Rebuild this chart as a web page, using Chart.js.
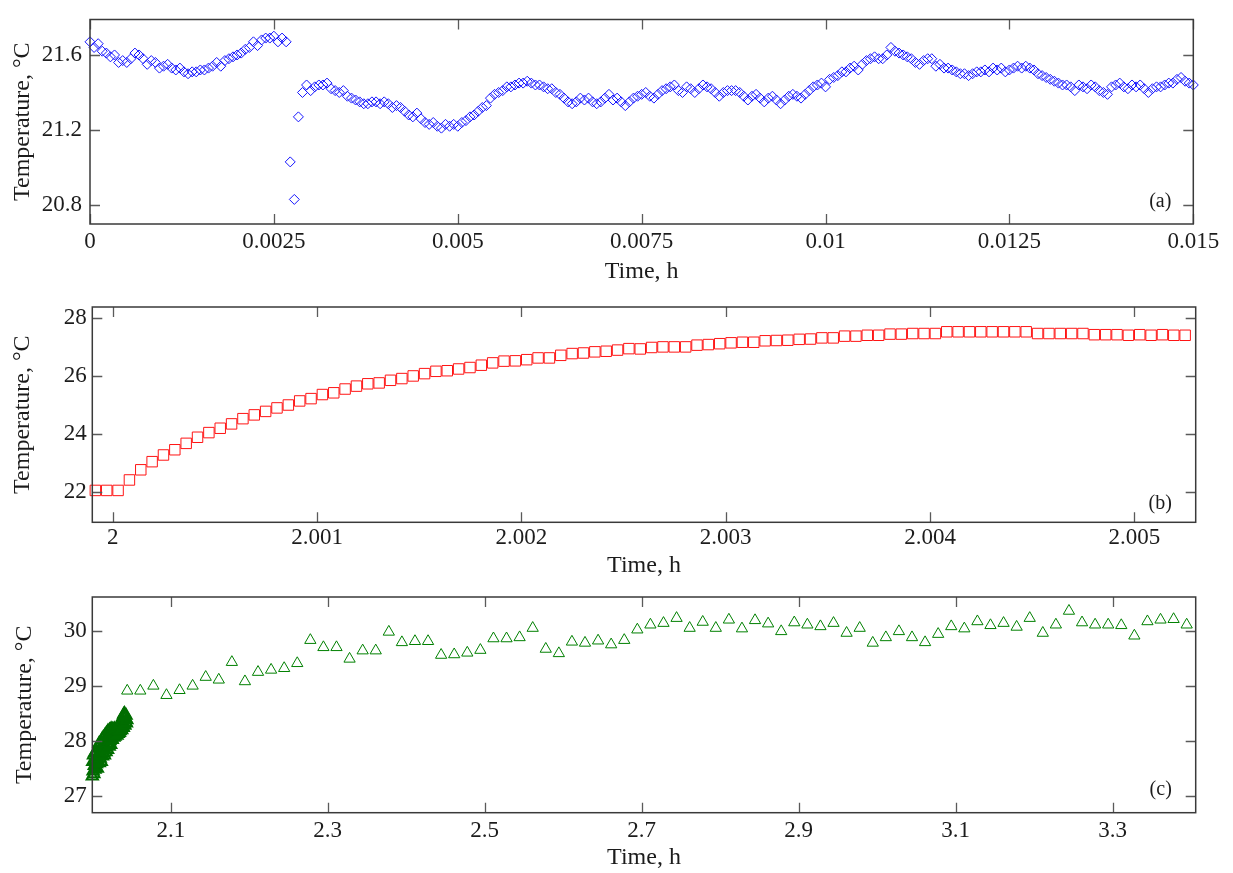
<!DOCTYPE html>
<html><head><meta charset="utf-8">
<script src="https://cdn.jsdelivr.net/npm/chart.js@4.4.1/dist/chart.umd.min.js"></script>
<style>
html,body{margin:0;padding:0;background:#fff;}
#wrap{position:relative;width:1233px;height:873px;overflow:hidden;background:#fff;}
.panel{position:absolute;left:0;width:1233px;}
canvas{display:block;}
</style></head><body>
<div id="wrap">
<div class="panel" style="top:0;height:290px"><canvas id="ca" width="1233" height="290"></canvas></div>
<div class="panel" style="top:290px;height:290px"><canvas id="cb" width="1233" height="290"></canvas></div>
<div class="panel" style="top:580px;height:293px"><canvas id="cc" width="1233" height="293"></canvas></div>
</div>
<script>
// ---------- Panel (a): sampled every 0.2 s, time in hours ----------
const startA = 0;
const stepA = 0.2 / 3600;
const tempA = [
 21.67,21.64,21.66,21.62,21.61,21.59,21.60,21.56,21.57,21.56,
 21.58,21.61,21.60,21.58,21.55,21.57,21.56,21.53,21.54,21.55,
 21.53,21.52,21.53,21.51,21.50,21.51,21.51,21.52,21.52,21.53,
 21.54,21.56,21.54,21.57,21.58,21.59,21.60,21.61,21.63,21.64,
 21.67,21.65,21.68,21.69,21.69,21.70,21.67,21.69,21.67,21.03,
 20.83,21.27,21.40,21.44,21.41,21.43,21.44,21.44,21.45,21.42,
 21.41,21.40,21.41,21.38,21.37,21.36,21.35,21.34,21.34,21.35,
 21.35,21.34,21.35,21.34,21.32,21.33,21.32,21.30,21.28,21.27,
 21.29,21.26,21.24,21.23,21.24,21.22,21.21,21.23,21.22,21.23,
 21.22,21.24,21.25,21.27,21.28,21.30,21.32,21.33,21.37,21.39,
 21.40,21.41,21.43,21.43,21.44,21.45,21.45,21.46,21.45,21.44,
 21.44,21.43,21.42,21.42,21.40,21.39,21.37,21.35,21.34,21.35,
 21.37,21.36,21.37,21.35,21.34,21.35,21.37,21.39,21.36,21.37,
 21.35,21.33,21.35,21.37,21.38,21.39,21.40,21.38,21.37,21.39,
 21.41,21.42,21.43,21.44,21.41,21.40,21.43,21.42,21.40,21.42,
 21.44,21.43,21.42,21.40,21.38,21.40,21.41,21.41,21.41,21.40,
 21.38,21.36,21.38,21.39,21.37,21.35,21.37,21.38,21.36,21.34,
 21.36,21.38,21.39,21.38,21.37,21.39,21.41,21.43,21.44,21.45,
 21.43,21.47,21.48,21.49,21.51,21.51,21.53,21.54,21.52,21.55,
 21.57,21.58,21.59,21.58,21.58,21.60,21.64,21.62,21.61,21.60,
 21.59,21.58,21.56,21.55,21.57,21.58,21.58,21.54,21.55,21.53,
 21.53,21.52,21.51,21.50,21.50,21.49,21.50,21.51,21.51,21.52,
 21.51,21.53,21.52,21.53,21.51,21.52,21.53,21.54,21.53,21.54,
 21.53,21.52,21.50,21.49,21.48,21.47,21.46,21.45,21.44,21.44,
 21.43,21.41,21.44,21.43,21.42,21.44,21.43,21.41,21.40,21.39,
 21.43,21.44,21.45,21.43,21.42,21.44,21.43,21.44,21.42,21.40,
 21.42,21.43,21.43,21.44,21.45,21.45,21.47,21.48,21.46,21.45,
 21.44
];
const xTicksA = [0, 0.0025, 0.005, 0.0075, 0.01, 0.0125, 0.015];
const xLabelsA = ["0", "0.0025", "0.005", "0.0075", "0.01", "0.0125", "0.015"];
const yTicksA = [20.8, 21.2, 21.6];
const yLabelsA = ["20.8", "21.2", "21.6"];

// ---------- Panel (b): sampled every 0.2 s ----------
const startB = 1.999915;
const stepB = 0.2 / 3600;
const tempB = [
 22.06,22.06,22.06,22.42,22.77,23.05,23.28,23.46,23.68,23.89,
 24.05,24.20,24.35,24.53,24.66,24.78,24.90,25.00,25.14,25.22,
 25.36,25.42,25.55,25.65,25.73,25.76,25.85,25.91,26.00,26.08,
 26.16,26.18,26.24,26.29,26.37,26.45,26.51,26.52,26.56,26.62,
 26.62,26.71,26.77,26.79,26.83,26.85,26.89,26.94,26.93,26.98,
 27.00,27.00,27.00,27.06,27.08,27.11,27.14,27.16,27.16,27.21,
 27.22,27.23,27.26,27.27,27.31,27.31,27.37,27.37,27.40,27.40,
 27.44,27.44,27.46,27.46,27.46,27.52,27.52,27.52,27.52,27.52,
 27.52,27.52,27.52,27.46,27.46,27.46,27.46,27.46,27.42,27.42,
 27.42,27.40,27.42,27.40,27.42,27.40,27.40
];
const xTicksB = [2, 2.001, 2.002, 2.003, 2.004, 2.005];
const xLabelsB = ["2", "2.001", "2.002", "2.003", "2.004", "2.005"];
const yTicksB = [22, 24, 26, 28];
const yLabelsB = ["22", "24", "26", "28"];

// ---------- Panel (c): dense start + one sample per minute ----------
const startC1 = 2.0;
const stepC1 = 0.0005;
const tempC1 = [
 27.36,27.62,27.45,27.74,27.40,27.55,27.78,27.48,27.66,27.52,
 27.80,27.58,27.70,27.50,27.86,27.63,27.74,27.95,27.60,27.82,
 27.68,27.98,27.75,27.62,27.90,28.03,27.72,27.85,28.06,27.78,
 27.92,27.74,28.10,27.88,28.02,27.80,28.14,27.95,28.08,27.84,
 28.18,27.96,28.06,27.90,28.20,28.00,28.12,27.93,28.22,28.05,
 28.15,28.02,28.21,28.10,28.18,28.06,28.22,28.14,28.08,28.20,
 28.12,28.22,28.16,28.10,28.24,28.18,28.13,28.26,28.20,28.15,
 28.28,28.18,28.32,28.22,28.36,28.20,28.40,28.26,28.44,28.24,
 28.48,28.30,28.50,28.28,28.42,28.34,28.46,28.32,28.38
];
const startC2 = 2.0445;
const stepC2 = 1 / 60;
const tempC2 = [
 28.91,28.91,29.00,28.83,28.92,29.00,29.16,29.11,29.43,29.08,
 29.25,29.29,29.32,29.41,29.83,29.70,29.70,29.49,29.64,29.64,
 29.98,29.79,29.81,29.81,29.56,29.57,29.60,29.65,29.86,29.86,
 29.88,30.05,29.67,29.59,29.80,29.78,29.82,29.75,29.83,30.02,
 30.11,30.14,30.23,30.05,30.16,30.05,30.20,30.04,30.19,30.13,
 29.99,30.15,30.11,30.08,30.14,29.96,30.05,29.78,29.88,29.99,
 29.88,29.79,29.94,30.08,30.04,30.17,30.10,30.14,30.07,30.23,
 29.96,30.11,30.36,30.15,30.11,30.11,30.10,29.91,30.17,30.20,
 30.21,30.11
];
const xTicksC = [2.1, 2.3, 2.5, 2.7, 2.9, 3.1, 3.3];
const xLabelsC = ["2.1", "2.3", "2.5", "2.7", "2.9", "3.1", "3.3"];
const yTicksC = [27, 28, 29, 30];
const yLabelsC = ["27", "28", "29", "30"];

// ---------- drawing ----------
const FONT = '"Liberation Serif", "Times New Roman", serif';
const TXT = '#1c1c1c';

function toPoints(start, step, vals) {
  return vals.map((v, i) => ({ x: start + i * step, y: v }));
}

const framePlugin = {
  id: 'frame',
  afterDatasetsDraw(chart, args, opts) {
    const { ctx, chartArea: a } = chart;
    const x = chart.scales.x, y = chart.scales.y;
    ctx.save();
    ctx.strokeStyle = '#5a5a5a';
    ctx.lineWidth = 1.3;
    ctx.beginPath();
    x.ticks.forEach(t => {
      const p = Math.round(x.getPixelForValue(t.value)) + 0.5;
      ctx.moveTo(p, a.bottom); ctx.lineTo(p, a.bottom - 10);
      ctx.moveTo(p, a.top); ctx.lineTo(p, a.top + 10);
    });
    y.ticks.forEach(t => {
      const p = Math.round(y.getPixelForValue(t.value)) + 0.5;
      ctx.moveTo(a.left, p); ctx.lineTo(a.left + 10, p);
      ctx.moveTo(a.right, p); ctx.lineTo(a.right - 10, p);
    });
    ctx.stroke();
    ctx.strokeStyle = '#3a3a3a';
    ctx.lineWidth = 1.5;
    ctx.strokeRect(a.left, a.top, a.right - a.left, a.bottom - a.top);
    ctx.font = '20px ' + FONT;
    ctx.fillStyle = TXT;
    ctx.textAlign = 'center';
    ctx.textBaseline = 'middle';
    ctx.fillText(opts.letter, a.right - opts.dx, a.bottom - opts.dy);
    ctx.restore();
  }
};

function makePanel(id, o) {
  return new Chart(document.getElementById(id), {
    type: 'scatter',
    data: { datasets: o.datasets },
    options: {
      responsive: false,
      animation: false,
      events: [],
      layout: { padding: { left: 0, right: 1233 - o.plotRight, top: o.plotTop, bottom: 0 } },
      plugins: {
        legend: { display: false },
        tooltip: { enabled: false },
        frame: { letter: o.letter, dx: o.ldx, dy: o.ldy }
      },
      scales: {
        x: {
          type: 'linear', min: o.xMin, max: o.xMax,
          grid: { display: false, drawTicks: false },
          border: { display: false },
          afterBuildTicks: s => { s.ticks = o.xTicks.map(v => ({ value: v })); },
          afterFit: s => { s.height = o.xAxisH; },
          ticks: {
            callback: (v, i) => o.xLabels[i],
            font: { family: FONT, size: 23, lineHeight: 1 },
            color: TXT, padding: o.xTickPad, maxRotation: 0, autoSkip: false
          },
          title: {
            display: true, text: 'Time, h',
            font: { family: FONT, size: 24, lineHeight: 1 },
            color: TXT, padding: { top: 0, bottom: o.xTitlePad }
          }
        },
        y: {
          type: 'linear', min: o.yMin, max: o.yMax,
          grid: { display: false, drawTicks: false },
          border: { display: false },
          afterBuildTicks: s => { s.ticks = o.yTicks.map(v => ({ value: v })); },
          afterFit: s => { s.width = o.plotLeft; },
          ticks: {
            callback: (v, i) => o.yLabels[i],
            font: { family: FONT, size: 23, lineHeight: 1 },
            color: TXT, padding: o.yTickPad, autoSkip: false
          },
          title: {
            display: true, text: 'Temperature, \u00B0C',
            font: { family: FONT, size: 24, lineHeight: 1 },
            color: TXT, padding: { top: o.yTitlePad, bottom: 0 }
          }
        }
      }
    },
    plugins: [framePlugin]
  });
}

function markerSet(points, style, radius, color, bw) {
  return {
    data: points, showLine: false, clip: false,
    pointStyle: style, pointRadius: radius, pointHoverRadius: radius,
    pointBorderColor: color, pointBackgroundColor: 'rgba(0,0,0,0)',
    pointBorderWidth: bw, borderColor: color, backgroundColor: 'rgba(0,0,0,0)'
  };
}

makePanel('ca', {
  datasets: [markerSet(toPoints(startA, stepA, tempA), 'rectRot', 5, 'rgb(20,20,255)', 1)],
  xMin: 0, xMax: 0.015, yMin: 20.699, yMax: 21.789,
  xTicks: xTicksA, xLabels: xLabelsA, yTicks: yTicksA, yLabels: yLabelsA,
  plotLeft: 90, plotRight: 1193.3, plotTop: 8.3, xAxisH: 290 - 224,
  xTickPad: 6, xTitlePad: 6, yTickPad: 8, yTitlePad: 11,
  letter: '(a)', ldx: 33, ldy: 22
});

makePanel('cb', {
  datasets: [markerSet(toPoints(startB, stepB, tempB), 'rect', 7.4, 'rgb(255,20,20)', 1)],
  xMin: 1.9999, xMax: 2.0053, yMin: 20.963, yMax: 28.373,
  xTicks: xTicksB, xLabels: xLabelsB, yTicks: yTicksB, yLabels: yLabelsB,
  plotLeft: 92.3, plotRight: 1195.7, plotTop: 13.7, xAxisH: 290 - 232.3,
  xTickPad: 4.5, xTitlePad: 2, yTickPad: 5.5, yTitlePad: 11,
  letter: '(b)', ldx: 35.5, ldy: 19
});

makePanel('cc', {
  datasets: [
    markerSet(toPoints(startC1, stepC1, tempC1), 'triangle', 6.5, 'rgb(0,110,0)', 2),
    markerSet(toPoints(startC2, stepC2, tempC2), 'triangle', 6.5, 'rgb(0,128,0)', 1)
  ],
  xMin: 2.0, xMax: 3.406, yMin: 26.696, yMax: 30.614,
  xTicks: xTicksC, xLabels: xLabelsC, yTicks: yTicksC, yLabels: yLabelsC,
  plotLeft: 92.3, plotRight: 1195.7, plotTop: 13.3, xAxisH: 293 - 232.7,
  xTickPad: 6.5, xTitlePad: 3, yTickPad: 5.5, yTitlePad: 13,
  letter: '(c)', ldx: 35, ldy: 22.7
});
</script>
</body></html>
